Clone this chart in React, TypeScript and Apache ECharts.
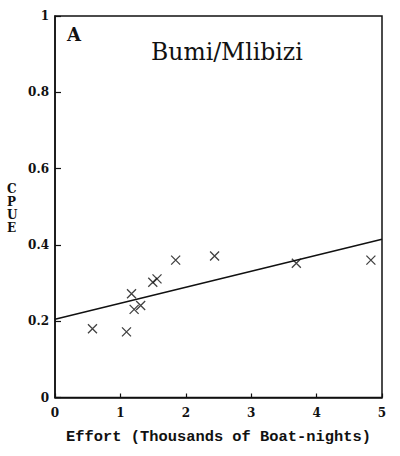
import React, { useEffect, useRef } from "react";
import * as echarts from "echarts";

const effort = [0.573, 1.093, 1.17, 1.21, 1.31, 1.495, 1.56, 1.845, 2.44, 3.69, 4.83];
const cpue = [0.18, 0.172, 0.272, 0.231, 0.241, 0.302, 0.311, 0.36, 0.371, 0.352, 0.36];
const fitX = [0, 5];
const fitY = [0.205, 0.415];
const xTicks = [0, 1, 2, 3, 4, 5];
const yTicks = [0, 0.2, 0.4, 0.6, 0.8, 1];

const INK = "#111";
const SERIF = "'DejaVu Serif', serif";
const MONO = "'Liberation Mono', monospace";

export default function App() {
  const ref = useRef<HTMLDivElement>(null);
  useEffect(() => {
    if (!ref.current) return;
    const chart = echarts.init(ref.current, null, { renderer: "svg" });
    chart.setOption({
      animation: false,
      backgroundColor: "#fff",
      grid: { left: 55, top: 16, width: 327, height: 381.5, show: true, borderColor: INK, borderWidth: 1.5 },
      xAxis: {
        type: "value",
        min: xTicks[0],
        max: xTicks[xTicks.length - 1],
        interval: 1,
        name: "Effort (Thousands of Boat-nights)",
        nameLocation: "middle",
        nameGap: 32,
        nameTextStyle: { fontFamily: MONO, fontWeight: "bold", fontSize: 15.4, color: INK },
        axisLine: { show: true, lineStyle: { color: INK, width: 1.5 } },
        axisTick: { show: true, inside: true, length: 4, lineStyle: { color: INK, width: 1.2 } },
        axisLabel: {
          margin: 9,
          fontFamily: SERIF,
          fontWeight: "bold",
          fontSize: 12,
          color: INK,
          formatter: (v: number) => (xTicks.includes(v) ? String(v) : ""),
        },
        splitLine: { show: false },
      },
      yAxis: {
        type: "value",
        min: yTicks[0],
        max: yTicks[yTicks.length - 1],
        interval: 0.2,
        axisLine: { show: true, lineStyle: { color: INK, width: 1.5 } },
        axisTick: { show: true, inside: true, length: 6, lineStyle: { color: INK, width: 1.2 } },
        axisLabel: {
          margin: 6,
          fontFamily: SERIF,
          fontWeight: "bold",
          fontSize: 12,
          color: INK,
          formatter: (v: number) => {
            const r = Math.round(v * 10) / 10;
            return r === 0 || r === 1 ? String(r) : r.toFixed(1);
          },
        },
        splitLine: { show: false },
      },
      graphic: [
        {
          type: "text",
          left: 67,
          top: 25,
          style: { text: "A", fontFamily: SERIF, fontWeight: "bold", fontSize: 18, fill: INK },
        },
        {
          type: "text",
          left: 151,
          top: 40,
          style: { text: "Bumi/Mlibizi", fontFamily: SERIF, fontSize: 23.5, fill: INK },
        },
        {
          type: "text",
          left: 7,
          top: 182,
          style: {
            text: "C\nP\nU\nE",
            fontFamily: SERIF,
            fontWeight: "bold",
            fontSize: 12,
            lineHeight: 13,
            align: "center",
            fill: INK,
          },
        },
      ],
      series: [
        {
          type: "line",
          data: fitX.map((x, i) => [x, fitY[i]]),
          showSymbol: false,
          lineStyle: { color: INK, width: 1.5 },
          z: 2,
        },
        {
          type: "scatter",
          data: effort.map((x, i) => [x, cpue[i]]),
          symbol: "path://M0,0L10,10M10,0L0,10",
          symbolSize: 9,
          itemStyle: { color: "none", borderColor: INK, borderWidth: 1.3 },
          z: 3,
        },
      ],
    });
    return () => chart.dispose();
  }, []);
  return (
    <div
      ref={ref}
      style={{ position: "fixed", left: 0, top: 0, width: 400, height: 456 }}
    />
  );
}
